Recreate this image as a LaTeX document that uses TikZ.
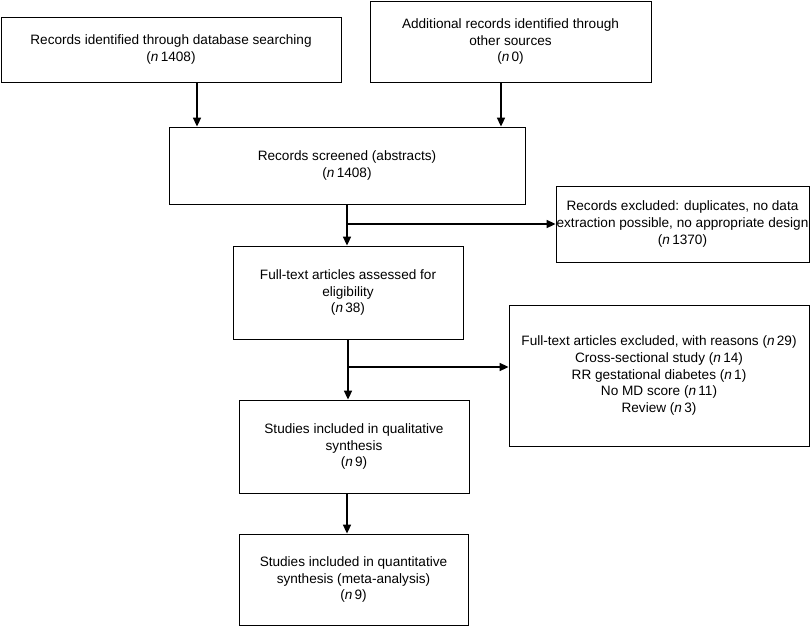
\documentclass[tikz,border=0pt]{standalone}
\usepackage{fontspec}
\setmainfont{Liberation Sans}
\usetikzlibrary{arrows.meta}
\newcommand{\ncount}[1]{(\textit{n}\,#1)}

\begin{document}
\begin{tikzpicture}[x=1pt,y=-1pt,
  every node/.style={draw,rectangle,align=center,inner sep=0pt,line width=0.8pt,
    font=\fontsize{13.6}{16.7}\selectfont},
  flow/.style={-{Triangle[width=8pt,length=9pt]},line width=1.6pt}]
\useasboundingbox (0,0) rectangle (810,627);
% boxes
\node[minimum width=340pt,minimum height=65pt] (dbsearch) at (171,49.5)
  {Records identified through database searching\\\ncount{1408}};
\node[minimum width=281pt,minimum height=81pt] (other) at (510.5,41.5)
  {Additional records identified through\\other sources\\\ncount{0}};
\node[minimum width=356pt,minimum height=77pt] (screened) at (347,165.5)
  {Records screened (abstracts)\\\ncount{1408}};
\node[minimum width=253pt,minimum height=76pt] (excl1) at (682.5,224)
  {Records excluded: duplicates, no data\\extraction possible, no appropriate design\\\ncount{1370}};
\node[minimum width=230pt,minimum height=93pt] (fulltext) at (348,292.5)
  {Full-text articles assessed for\\eligibility\\\ncount{38}};
\node[minimum width=300pt,minimum height=141pt] (excl2) at (659,375.5)
  {Full-text articles excluded, with reasons \ncount{29}\\Cross-sectional study \ncount{14}\\
   RR gestational diabetes \ncount{1}\\No MD score \ncount{11}\\Review \ncount{3}};
\node[minimum width=230pt,minimum height=93pt] (qual) at (354,446.5)
  {Studies included in qualitative\\synthesis\\\ncount{9}};
\node[minimum width=229pt,minimum height=91pt] (quant) at (353.5,579.5)
  {Studies included in quantitative\\synthesis (meta-analysis)\\\ncount{9}};
\coordinate (split2) at (347,367);
% arrows
\draw[flow] ([xshift=26pt]dbsearch.south) -- ([xshift=26pt]dbsearch.south |- screened.north);
\draw[flow] ([xshift=-9.5pt]other.south) -- ([xshift=-9.5pt]other.south |- screened.north);
\draw[flow] (screened.south) -- (screened.south |- fulltext.north);
\draw[flow] (screened.south |- excl1.west) -- (excl1.west);
\draw[flow] (fulltext.south) -- (fulltext.south |- qual.north);
\draw[flow] (split2) -- (split2 -| excl2.west);
\draw[flow] ([xshift=-7pt]qual.south) -- ([xshift=-7pt]qual.south |- quant.north);
\end{tikzpicture}
\end{document}
